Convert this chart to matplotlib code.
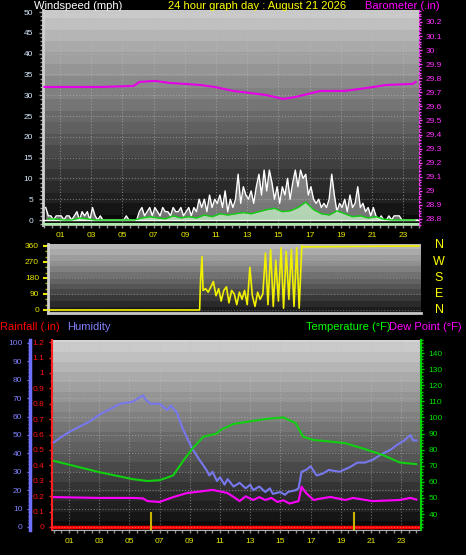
import numpy as np
import matplotlib
matplotlib.use('Agg')
import matplotlib.pyplot as plt
from matplotlib.ticker import MultipleLocator, FixedLocator, FuncFormatter

plt.rcParams['font.family'] = ['Liberation Sans', 'DejaVu Sans']

# ---------------- data ----------------
# wind gust (mph), 10-minute readings, 24 rows x 6
gust = [
    3, 1, 1, 0, 1, 1,
    1, 0, 1, 1, 0, 1,
    2, 0, 2, 1, 2, 0,
    3, 1, 0, 1, 0, 0,
    0, 0, 0, 0, 0, 0,
    0, 1, 0, 0, 0, 0,
    2, 3, 1, 2, 3, 1,
    3, 2, 1, 3, 2, 2,
    1, 3, 2, 2, 3, 1,
    2, 3, 1, 3, 2, 5,
    3, 5, 2, 6, 3, 5,
    4, 6, 3, 7, 2, 5,
    3, 5, 11, 4, 8, 6,
    5, 7, 4, 8, 11, 6,
    12, 7, 12, 9, 5, 8,
    4, 8, 6, 10, 5, 9,
    12, 8, 12, 10, 11, 6,
    8, 5, 4, 5, 3, 4,
    3, 5, 11, 6, 2, 4,
    3, 5, 2, 6, 3, 4,
    8, 3, 4, 2, 3, 1,
    3, 1, 0, 1, 0, 0,
    1, 0, 1, 1, 1, 0,
    0, 0, 0, 0, 0, 0,
]
# average wind speed (mph), 30-minute readings
wind_avg = [0.3, 0.2, 0, 0, 0.5, 0.3, 0, 0, 0, 0, 0, 0,
            0.5, 0.8, 0.5, 0.3, 1.0, 0.5, 0.8, 0.5, 1.2, 0.8, 1.5, 1.2,
            1.5, 1.8, 1.5, 2.0, 2.5, 2.8, 2.0, 2.2, 3.0, 4.3, 2.5, 1.5,
            1.2, 2.2, 1.5, 0.8, 1.0, 0.5, 0.8, 0.2, 0, 0, 0, 0]
# barometer (inHg)
baro_hours = [0, 3.6, 5.7, 6.1, 7.1, 8.0, 10.0, 10.9, 12.1, 14.2, 15.3, 16.1,
              17.7, 19.3, 21.1, 21.9, 23.6, 23.8]
baro_values = [29.738, 29.738, 29.745, 29.774, 29.781, 29.767, 29.752, 29.738,
               29.71, 29.681, 29.653, 29.667, 29.71, 29.71, 29.738, 29.752,
               29.76, 29.774]
# wind direction (degrees)
dir_hours = [0, 9.95, 10.0, 10.1, 10.17, 10.33, 10.5, 10.67, 10.83,
             11.0, 11.17, 11.33, 11.5, 11.67, 11.83,
             12.0, 12.17, 12.33, 12.5, 12.67, 12.83,
             13.0, 13.17, 13.33, 13.5, 13.67, 13.83,
             14.0, 14.17, 14.33, 14.5, 14.67, 14.83,
             15.0, 15.17, 15.33, 15.5, 15.67, 15.83,
             16.0, 16.17, 16.33, 16.5, 16.6, 24.0]
dir_values = [0, 0, 150, 300, 110, 120, 100, 130,
              160, 80, 120, 50, 110, 130, 40,
              110, 90, 30, 100, 60, 110,
              30, 240, 80, 20, 100, 60,
              90, 320, 30, 340, 20, 280,
              50, 350, 10, 330, 60, 340,
              20, 350, 10, 360, 355, 360]
# humidity (%)
hum_hours = [0, 0.5, 1.1, 1.8, 2.4, 3.0, 3.7, 4.4, 5.2, 5.6, 5.9, 6.1, 6.4, 7.0,
             7.5, 7.75, 8.15, 8.5, 8.9, 9.2, 9.6, 10.1, 10.3, 10.5, 10.8, 11.0,
             11.3, 11.5, 11.9, 12.3, 12.7, 13.0, 13.2, 13.6, 14.0, 14.3, 14.5,
             15.0, 15.3, 15.5, 16.0, 16.2, 16.4, 16.7, 17.0, 17.4, 17.8, 18.2,
             18.9, 19.6, 20.1, 20.6, 21.1, 21.8, 22.3, 22.7, 23.2, 23.6, 23.8, 24.0]
hum_values = [46, 49, 52, 55, 57.5, 61, 64, 67, 68, 70, 71.5, 69, 67, 67,
              63.5, 66, 62, 54, 47, 42, 37, 31, 28, 30, 25, 27,
              23, 26, 22, 24, 21, 23, 20, 22, 19, 21, 18,
              19, 17.5, 19, 20, 21, 30, 31, 33, 28, 29, 31,
              30, 32.5, 35, 35, 36.5, 40, 42, 44.5, 47, 50, 47, 47]
# temperature (F)
temp_hours = [0, 3, 5.2, 6.2, 7.0, 7.9, 8.6, 9.2, 9.9, 10.8, 11.0, 11.9, 14.0,
              15.2, 16.0, 16.5, 17.2, 18.3, 19.3, 20.7, 21.8, 22.9, 24.0]
temp_values = [73, 66, 61.7, 60.5, 61, 64, 73.5, 81, 88, 90, 92, 96, 99,
               100, 96.5, 88, 86, 85, 84, 80, 76.6, 72, 71]
# dew point (F)
dew_hours = [0, 3, 5.2, 5.9, 6.2, 7.0, 7.9, 8.8, 9.7, 10.5, 11.0, 11.5, 11.9,
             12.3, 12.7, 13.2, 13.6, 14.0, 14.4, 14.8, 15.2, 15.6, 16.0, 16.2,
             16.4, 16.7, 17.2, 17.6, 18.3, 19.3, 19.8, 21.1, 22.9, 23.6, 24.0]
dew_values = [50.5, 50, 50, 49.7, 48, 47.5, 50.5, 53, 54, 55, 54, 53, 50.6,
              48, 51, 48.7, 50.5, 48.7, 50, 47.5, 48.5, 46.5, 47.5, 48,
              57, 53, 48.7, 49.5, 50.6, 48.7, 50, 48, 48.7, 50, 49]
# rainfall (in)
rain_hours = [0, 24.3]
rain_values = [0, 0]
# sunrise / sunset markers (hour)
sun_marks = [6.4, 19.9]

hour_ticks = list(range(1, 24, 2))
hour_labels = [f"{h:02d}" for h in hour_ticks]

# ---------------- figure ----------------
W, H = 466, 555
fig = plt.figure(figsize=(W / 100, H / 100), dpi=100, facecolor='black')


def box(l, t, r, b):
    return [l / W, 1 - b / H, (r - l) / W, (b - t) / H]


def gradient(ax, xlim, ylim, top, bottom, steps=24):
    g = np.linspace(top, bottom, 200)
    g = np.round(g * steps) / steps
    img = np.repeat(g[:, None], 2, axis=1)
    ax.imshow(img, extent=[xlim[0], xlim[1], ylim[0], ylim[1]], aspect='auto',
              cmap='gray', vmin=0, vmax=1, zorder=0, interpolation='nearest')
    ax.set_xlim(xlim)
    ax.set_ylim(ylim)


fmt = FuncFormatter(lambda v, p: f"{v:g}")
YEL = '#e8e800'
FS = 6

# ---------- top panel: wind + barometer ----------
ax1 = fig.add_axes(box(43, 10, 419, 225))
xl1 = (-0.09, 24.01)
yl1 = (-1.2, 50.5)
gradient(ax1, xl1, yl1, 0.80, 0.03)
ax1.set_facecolor('black')
ax1.grid(True, color='#c0c0c0', ls=':', lw=0.8, alpha=0.5)
ax1.yaxis.set_major_locator(MultipleLocator(5))
ax1.yaxis.set_minor_locator(MultipleLocator(1))
ax1.yaxis.set_major_formatter(fmt)
ax1.xaxis.set_major_locator(FixedLocator(hour_ticks))
ax1.set_xticklabels(hour_labels)
ax1.xaxis.set_minor_locator(MultipleLocator(0.5))
ax1.tick_params(axis='y', which='major', colors='#a0a0a0', labelcolor='#d8ecff',
                labelsize=FS, length=3, width=1, pad=4)
ax1.tick_params(axis='y', which='minor', colors='#a0a0a0', length=2, width=1)
ax1.tick_params(axis='x', which='both', colors='#909090', labelcolor=YEL,
                labelsize=FS, length=2, width=1, pad=3)
for s in ['top', 'right']:
    ax1.spines[s].set_visible(False)
ax1.spines['left'].set_color('#d0d0d0')
ax1.spines['left'].set_linewidth(2)
ax1.spines['bottom'].set_color('#b0b0b0')

gx = np.arange(len(gust)) / 6 + 1 / 12
ax1.fill_between(gx, 0, gust, color='#c8c8c8', alpha=0.55, lw=0, zorder=2)
ax1.plot(gx, gust, color='white', lw=1, zorder=3)
ax1.axhline(0, color='white', lw=1, zorder=3)
ax1.axhline(-0.9, color='#a8f0a8', lw=1.5, zorder=3)
ax_ = np.arange(len(wind_avg)) * 0.5 + 0.25
ax1.fill_between(ax_, 0, wind_avg, color='#c8f5c8', alpha=0.75, lw=0, zorder=4)
ax1.plot(ax_, wind_avg, color='#10d010', lw=1, zorder=5)
ax1.set_xlim(xl1)
ax1.set_ylim(yl1)

ax1b = ax1.twinx()
ax1b.set_ylim(28.757, 30.285)
ax1b.plot(baro_hours, baro_values, color='#e600e6', lw=1.5, zorder=5)
ax1b.yaxis.set_major_locator(MultipleLocator(0.1))
ax1b.yaxis.set_minor_locator(MultipleLocator(0.02))
ax1b.yaxis.set_major_formatter(fmt)
ax1b.tick_params(axis='y', which='major', colors='#ff40ff', labelcolor='#ff30ff',
                 labelsize=FS, length=2.5, width=1, pad=2)
ax1b.tick_params(axis='y', which='minor', colors='#ff40ff', length=1.5, width=1)
for s in ['top', 'left', 'bottom']:
    ax1b.spines[s].set_visible(False)
ax1b.spines['right'].set_color('#ff40ff')
ax1b.spines['right'].set_linestyle((0, (2, 2)))
ax1b.set_xlim(xl1)

fig.text(34 / W, 1 - 6 / H, 'Windspeed (mph)', color='white', fontsize=8,
         ha='left', va='center')
fig.text(257 / W, 1 - 6 / H, '24 hour graph day : August 21 2026', color='#ffff00',
         fontsize=8, ha='center', va='center')
fig.text(440 / W, 1 - 6 / H, 'Barometer (.in)', color='#ff00ff', fontsize=8,
         ha='right', va='center')

# ---------- middle panel: wind direction ----------
ax2 = fig.add_axes(box(48, 244, 421, 313))
xl2 = (0.23, 24.14)
yl2 = (-17, 371)
gradient(ax2, xl2, yl2, 0.74, 0.08, steps=18)
ax2.grid(True, axis='y', color='#c0c0c0', ls=':', lw=0.8, alpha=0.4)
ax2.yaxis.set_major_locator(FixedLocator([0, 90, 180, 270, 360]))
ax2.yaxis.set_minor_locator(MultipleLocator(30))
ax2.yaxis.set_major_formatter(fmt)
ax2.set_xticks([])
ax2.tick_params(axis='y', which='major', colors=YEL, labelcolor=YEL,
                labelsize=FS, length=3.5, width=1.5, pad=3)
ax2.tick_params(axis='y', which='minor', colors='#b0b000', length=2, width=1)
for s in ['top', 'right']:
    ax2.spines[s].set_visible(False)
ax2.spines['left'].set_color('#d0d0d0')
ax2.spines['left'].set_linewidth(2)
ax2.spines['bottom'].set_color('#c8c8c8')
ax2.spines['bottom'].set_linewidth(2)
ax2.plot(dir_hours, dir_values, color='#f0f000', lw=1.2, zorder=3)
ax2.set_xlim(xl2)
ax2.set_ylim(yl2)
for lab, y in zip(['N', 'W', 'S', 'E', 'N'], [245, 262, 278, 294, 310]):
    fig.text(439 / W, 1 - y / H, lab, color='#ffff00', fontsize=9,
             ha='center', va='center')

# ---------- bottom panel: rain, humidity, temperature, dew point ----------
ax3 = fig.add_axes(box(52, 340, 421, 530))
xl3 = (-0.126, 24.31)
yl3 = (-0.0195, 1.214)
gradient(ax3, xl3, yl3, 0.82, 0.03)
ax3.xaxis.set_major_locator(FixedLocator(hour_ticks))
ax3.set_xticklabels(hour_labels)
ax3.xaxis.set_minor_locator(MultipleLocator(0.5))
ax3.tick_params(axis='x', which='both', colors='#909090', labelcolor=YEL,
                labelsize=FS, length=2, width=1, pad=4)
ax3.grid(True, axis='x', color='#c0c0c0', ls=':', lw=0.8, alpha=0.5)
ax3.yaxis.set_major_locator(MultipleLocator(0.1))
ax3.yaxis.set_minor_locator(MultipleLocator(0.05))
ax3.yaxis.set_major_formatter(fmt)
ax3.tick_params(axis='y', which='major', colors='#ff2020', labelcolor='#ff1010',
                labelsize=FS, length=2.5, width=1, pad=3)
ax3.tick_params(axis='y', which='minor', colors='#ff2020', length=1.5, width=1)
for s in ['top', 'right']:
    ax3.spines[s].set_visible(False)
ax3.spines['left'].set_color('#ff2020')
ax3.spines['left'].set_linestyle((0, (2, 1)))
ax3.spines['left'].set_linewidth(1.5)
ax3.spines['bottom'].set_color('#b0b0b0')
ax3.plot(rain_hours, rain_values, color='#ff0000', lw=2.5, zorder=6)
ax3.set_xlim(xl3)
ax3.set_ylim(yl3)

ax3h = ax3.twinx()
ax3h.set_ylim(-1.63, 101.6)
ax3h.yaxis.set_ticks_position('left')
ax3h.spines['left'].set_visible(True)
ax3h.spines['left'].set_position(('outward', 22 * 0.72))
ax3h.spines['left'].set_color('#7070ff')
ax3h.spines['left'].set_linewidth(2.5)
for s in ['top', 'right', 'bottom']:
    ax3h.spines[s].set_visible(False)
ax3h.yaxis.set_major_locator(MultipleLocator(10))
ax3h.yaxis.set_minor_locator(MultipleLocator(2))
ax3h.yaxis.set_major_formatter(fmt)
ax3h.tick_params(axis='y', which='major', colors='#7070ff', labelcolor='#8080ff',
                 labelsize=FS, length=2.5, width=1, pad=3)
ax3h.tick_params(axis='y', which='minor', colors='#7070ff', length=1.5, width=1)
ax3h.grid(True, axis='y', color='#c0c0c0', ls=':', lw=0.8, alpha=0.5)
ax3h.plot(hum_hours, hum_values, color='#7878ee', lw=1.5, zorder=4)
ax3h.vlines(sun_marks, -1.63, 8.2, color='#c8b400', lw=1.5, zorder=3)
ax3h.set_xlim(xl3)

ax3t = ax3.twinx()
ax3t.set_ylim(30.06, 148.1)
for s in ['top', 'left', 'bottom']:
    ax3t.spines[s].set_visible(False)
ax3t.spines['right'].set_color('#00d000')
ax3t.spines['right'].set_linestyle((0, (2, 1)))
ax3t.spines['right'].set_linewidth(1.5)
ax3t.yaxis.set_major_locator(FixedLocator(list(range(40, 150, 10))))
ax3t.yaxis.set_minor_locator(MultipleLocator(2))
ax3t.yaxis.set_major_formatter(fmt)
ax3t.tick_params(axis='y', which='major', colors='#00d000', labelcolor='#00e000',
                 labelsize=FS, length=2.5, width=1, pad=3)
ax3t.tick_params(axis='y', which='minor', colors='#00d000', length=1.5, width=1)
ax3t.plot(temp_hours, temp_values, color='#10d010', lw=1.5, zorder=5)
ax3t.plot(dew_hours, dew_values, color='#ff00ff', lw=1.5, zorder=5)
ax3t.set_xlim(xl3)

fig.text(0 / W, 1 - 327 / H, 'Rainfall (.in)', color='#ff0000', fontsize=8,
         ha='left', va='center')
fig.text(67 / W, 1 - 327 / H, 'Humidity', color='#8080ff', fontsize=8,
         ha='left', va='center')
fig.text(391 / W, 1 - 327 / H, 'Temperature (°F)', color='#00ff00', fontsize=8,
         ha='right', va='center')
fig.text(462 / W, 1 - 327 / H, 'Dew Point (°F)', color='#ff00ff', fontsize=8,
         ha='right', va='center')

fig.savefig('out.png', dpi=100, facecolor='black')
